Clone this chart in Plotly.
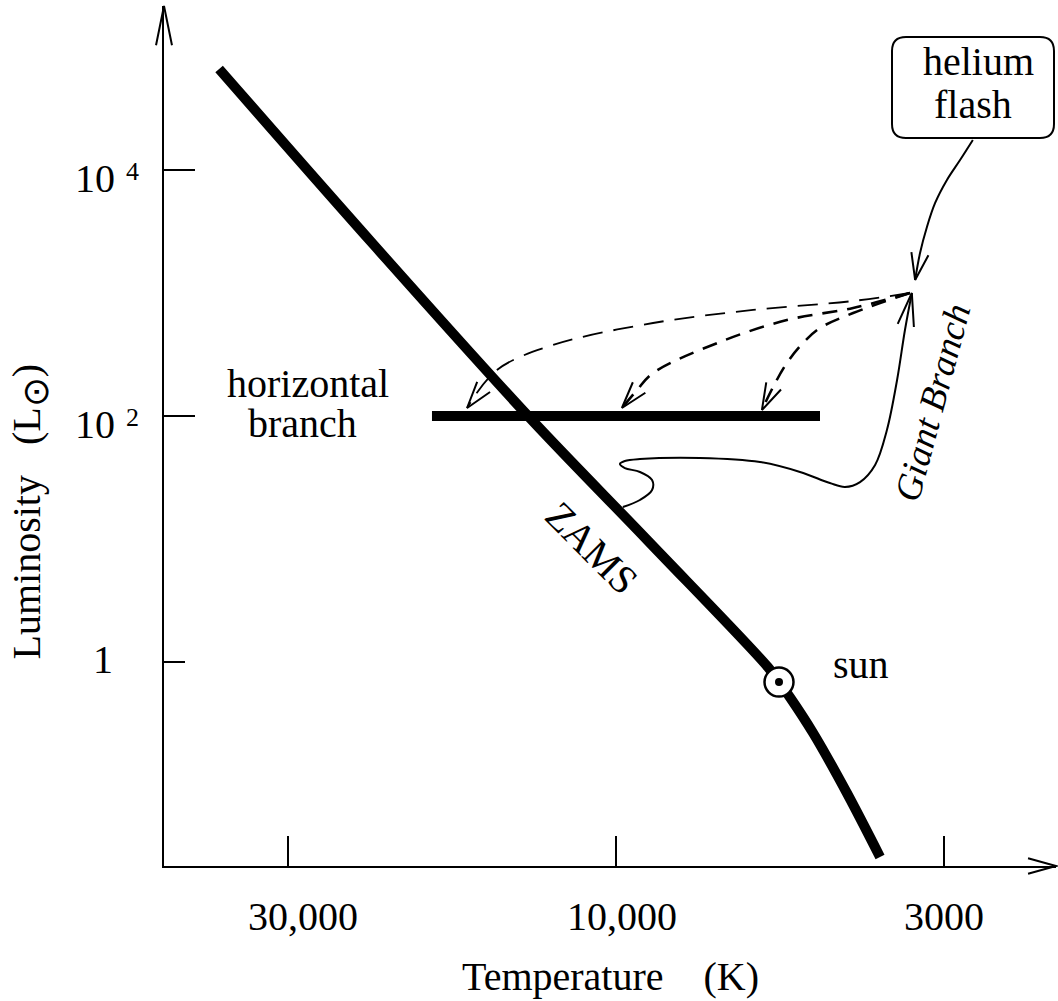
import math
import plotly.graph_objects as go

# ---- data -------------------------------------------------------------
# Schematic temperature axis: tick positions and labels (hot on the left)
temp_tick_pos = [1, 2, 3]
temp_tick_text = ["30,000", "10,000", "3000"]

# Luminosity axis in log10(L / Lsun)
lum_tick_pos = [4, 2, 0]

# Zero-age main sequence
zams_x = [0.790, 1.262, 1.732, 2.098, 2.463, 2.497, 2.530, 2.601, 2.704, 2.805]
zams_y = [4.821, 3.390, 2.000, 0.984, -0.041, -0.163, -0.285, -0.577, -1.065, -1.585]

# Horizontal branch
hb_x = [1.439, 2.622]
hb_y = [2.0, 2.0]

# The Sun on the ZAMS
sun_x = [2.497]
sun_y = [-0.163]

# Evolutionary track from the main sequence up the giant branch
gb_x = [2.021, 2.073, 2.110, 2.110, 2.073, 2.027, 2.012, 2.027, 2.073, 2.256,
        2.439, 2.561, 2.652, 2.698, 2.744, 2.790, 2.826, 2.857, 2.881, 2.902]
gb_y = [1.260, 1.317, 1.398, 1.480, 1.545, 1.577, 1.610, 1.634, 1.650, 1.659,
        1.626, 1.545, 1.455, 1.423, 1.463, 1.602, 1.886, 2.293, 2.699, 3.000]

# Post-flash paths down onto the horizontal branch
hb1_x = [2.896, 2.723, 2.418, 2.113, 1.808, 1.637, 1.546]
hb1_y = [3.000, 2.935, 2.862, 2.756, 2.577, 2.374, 2.065]
hb2_x = [2.896, 2.723, 2.521, 2.317, 2.113, 2.064, 2.018]
hb2_y = [3.000, 2.878, 2.780, 2.602, 2.350, 2.211, 2.065]
hb3_x = [2.896, 2.723, 2.622, 2.570, 2.521, 2.479, 2.445]
hb3_y = [3.000, 2.837, 2.715, 2.593, 2.431, 2.236, 2.049]

# Pointer from the "helium flash" label to the tip of the giant branch
flash_x = [3.088, 3.049, 3.009, 2.973, 2.948, 2.927, 2.912]
flash_y = [4.244, 4.081, 3.919, 3.732, 3.537, 3.325, 3.106]

# ---- layout geometry ---------------------------------------------------
W, H = 1058, 1001
ML, MR, MT, MB = 164, 2, 6, 135
PW, PH = W - ML - MR, H - MT - MB
X0, X1 = 0.622, 3.3415
Y0, Y1 = -1.6585, 5.3333
PXU = PW / (X1 - X0)   # pixels per x unit
PXV = PH / (Y1 - Y0)   # pixels per y unit

FONT = "Liberation Serif, Times New Roman, serif"
BLACK = "black"


def v_arms(tx, ty, bx, by, length, half_angle):
    """Two arm end points of an open V arrowhead, all in pixels."""
    dx, dy = tx - bx, ty - by
    n = math.hypot(dx, dy)
    dx, dy = dx / n, dy / n
    arms = []
    for s in (1, -1):
        a = math.radians(half_angle) * s
        rx = dx * math.cos(a) - dy * math.sin(a)
        ry = dx * math.sin(a) + dy * math.cos(a)
        arms.append((tx - length * rx, ty - length * ry))
    return arms


def arrow_head(xs, ys, length, half_angle, back=1):
    """Open V arrowhead at the last point of a data path."""
    (ax, ay), (bx, by) = v_arms(xs[-1] * PXU, ys[-1] * PXV,
                                xs[-1 - back] * PXU, ys[-1 - back] * PXV,
                                length, half_angle)
    return [ax / PXU, xs[-1], bx / PXU], [ay / PXV, ys[-1], by / PXV]


def axis_arrow(tip, direction, length, half_angle):
    """Open V arrowhead in paper coordinates (not clipped by the plot area)."""
    tx, ty = tip[0] * PW, tip[1] * PH
    (ax, ay), (bx, by) = v_arms(tx, ty, tx - direction[0], ty - direction[1],
                                length, half_angle)
    return dict(type="path", xref="paper", yref="paper",
                path=f"M{ax / PW},{ay / PH} L{tip[0]},{tip[1]} L{bx / PW},{by / PH}",
                line=dict(color=BLACK, width=2))


fig = go.Figure()


def line(x, y, width, dash="solid", shape="spline", smoothing=1.0):
    fig.add_trace(go.Scatter(
        x=x, y=y, mode="lines", hoverinfo="skip",
        line=dict(color=BLACK, width=width, dash=dash, shape=shape,
                  smoothing=smoothing)))


# main sequence and horizontal branch
line(zams_x, zams_y, 10, smoothing=1.0)
line(hb_x, hb_y, 10, shape="linear")

# giant-branch track with arrow
line(gb_x, gb_y, 2)
ax, ay = arrow_head(gb_x, gb_y, 34, 14)
line(ax, ay, 2, shape="linear")

# dashed paths to the horizontal branch
for xs, ys, w, d in [(hb1_x, hb1_y, 1.8, "20px,11px"),
                     (hb2_x, hb2_y, 2.6, "15px,10px"),
                     (hb3_x, hb3_y, 2.6, "15px,10px")]:
    line(xs, ys, w, dash=d)
    ax, ay = arrow_head(xs, ys, 28, 17)
    line(ax, ay, 2, shape="linear")

# helium flash pointer
line(flash_x, flash_y, 2)
ax, ay = arrow_head(flash_x, flash_y, 28, 18)
line(ax, ay, 2, shape="linear")

# the Sun symbol
fig.add_trace(go.Scatter(
    x=sun_x, y=sun_y, mode="markers", hoverinfo="skip",
    marker=dict(size=29, color="white", line=dict(color=BLACK, width=2.5))))
fig.add_trace(go.Scatter(
    x=sun_x, y=sun_y, mode="markers", hoverinfo="skip",
    marker=dict(size=8, color=BLACK)))

# ---- shapes: axis arrows, y ticks and label box ------------------------
shapes = [axis_arrow((0, 1), (0, 1), 40, 11.5),
          axis_arrow((1, 0), (1, 0), 29, 15.5)]

y_tick_extent = {4: (0, 31), 2: (0, 31), 0: (-9, 21)}
for v in lum_tick_pos:
    a, b = y_tick_extent[v]
    shapes.append(dict(type="line", xref="x", yref="y", xsizemode="pixel",
                       xanchor=X0, x0=a, x1=b, y0=v, y1=v,
                       line=dict(color=BLACK, width=2)))

# rounded box around "helium flash"
bx0, bx1 = 2.8415, 3.3354
by0, by1 = 4.260, 5.081
ru, rv = 14 / PXU, 14 / PXV
path = (f"M{bx0 + ru},{by1} L{bx1 - ru},{by1} Q{bx1},{by1} {bx1},{by1 - rv} "
        f"L{bx1},{by0 + rv} Q{bx1},{by0} {bx1 - ru},{by0} "
        f"L{bx0 + ru},{by0} Q{bx0},{by0} {bx0},{by0 + rv} "
        f"L{bx0},{by1 - rv} Q{bx0},{by1} {bx0 + ru},{by1} Z")
shapes.append(dict(type="path", xref="x", yref="y", path=path,
                   line=dict(color=BLACK, width=2), fillcolor="rgba(0,0,0,0)"))

# ---- annotations --------------------------------------------------------
ann = []


def text(t, x, y, size=40, angle=0, xref="x", yref="y", xshift=0, yshift=0):
    ann.append(dict(text=t, x=x, y=y, xref=xref, yref=yref, showarrow=False,
                    xanchor="center", yanchor="middle", textangle=angle,
                    xshift=xshift, yshift=yshift,
                    font=dict(family=FONT, size=size, color=BLACK)))


# temperature tick labels
x_label_shift = [15, 6, 0]
for p, t, s in zip(temp_tick_pos, temp_tick_text, x_label_shift):
    text(t, p, 0, yref="paper", xshift=s, yshift=-50)

# luminosity tick labels
for v in lum_tick_pos:
    if v == 0:
        text("1", 0, v, xref="paper", xshift=-61, yshift=2.5)
    else:
        text("10", 0, v, xref="paper", xshift=-69.5, yshift=-8)
        text(str(v), 0, v, size=26, xref="paper", xshift=-31.5, yshift=-1.5)

NB = "\u00a0"
text("Temperature" + NB * 4 + "(K)", 1.982, 0, yref="paper", yshift=-110.5)
text("Luminosity" + NB * 3
     + "(L<sub><span style='font-size:36px'>\u2299</span></sub>)", 0, 1.2195,
     xref="paper", xshift=-134.5, angle=-90)

text("horizontal", 1.061, 2.264)
text("branch", 1.043, 1.939)
text("helium", 3.104, 4.882)
text("flash", 3.088, 4.533)
text("sun", 2.747, -0.020)
text("ZAMS", 1.924, 0.927, angle=45)
text("<i>Giant Branch</i>", 2.966, 2.106, size=37, angle=-75)

fig.update_layout(
    width=W, height=H,
    margin=dict(l=ML, r=MR, t=MT, b=MB),
    paper_bgcolor="white", plot_bgcolor="white",
    showlegend=False,
    shapes=shapes,
    annotations=ann,
    xaxis=dict(range=[X0, X1], showline=True, linecolor=BLACK, linewidth=2,
               ticks="inside", ticklen=30, tickwidth=2, tickcolor=BLACK,
               tickvals=temp_tick_pos, showticklabels=False,
               showgrid=False, zeroline=False, fixedrange=True),
    yaxis=dict(range=[Y0, Y1], showline=True, linecolor=BLACK, linewidth=2,
               ticks="", showticklabels=False,
               showgrid=False, zeroline=False, fixedrange=True),
)

fig.write_html("out.html")
